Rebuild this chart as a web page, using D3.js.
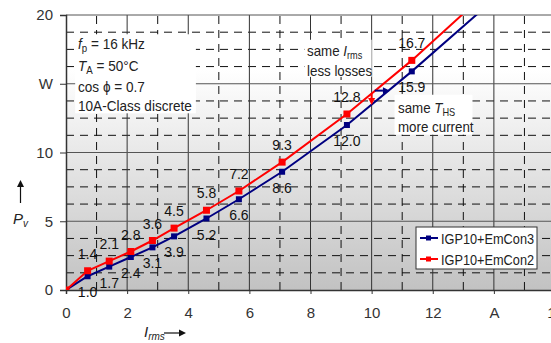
<!DOCTYPE html>
<html>
<head>
<meta charset="utf-8">
<script src="https://cdn.jsdelivr.net/npm/d3@7"></script>
<style>
  body { margin: 0; background: #fff; }
  svg text { font-family: "Liberation Sans", Arial, sans-serif; fill: #222; }
  .narrow { font-family: "Liberation Sans Narrow", "Arial Narrow", "Liberation Sans", sans-serif; }
</style>
</head>
<body>
<div id="chart"></div>
<script>
// rms current (A) of each measured point
var currents = [0, 0.707, 1.414, 2.121, 2.828, 3.536, 4.596, 5.657, 7.071, 9.192, 11.314, 14.142];
// losses (W)
var lossesEmCon3 = [0, 1.0, 1.7, 2.4, 3.1, 3.9, 5.2, 6.6, 8.6, 12.0, 15.9, 21.4];
var lossesEmCon2 = [0, 1.4, 2.1, 2.8, 3.6, 4.5, 5.8, 7.2, 9.3, 12.8, 16.7, 22.4];
// how many points carry a marker and a value label
var labelledPoints = 11;

var seriesNames = ["IGP10+EmCon3", "IGP10+EmCon2"];
var seriesColors = ["#000080", "#ff0000"];

var xTicks = [0, 2, 4, 6, 8, 10, 12, 14, 16];
var xTickLabels = ["0", "2", "4", "6", "8", "10", "12", "A", "16"];
var yTicks = [0, 5, 10, 15, 20];
var yTickLabels = ["0", "5", "10", "W", "20"];

var width = 551, height = 343;
var margin = {top: 15, right: -4, bottom: 53, left: 66};

var svg = d3.select("#chart").append("svg")
    .attr("width", width)
    .attr("height", height);

var x = d3.scaleLinear().domain([0, 16]).range([margin.left, width - margin.right]);
var y = d3.scaleLinear().domain([0, 20]).range([height - margin.bottom, margin.top]);

// background gradient
var defs = svg.append("defs");
var grad = defs.append("linearGradient")
    .attr("id", "bg").attr("x1", 0).attr("y1", 0).attr("x2", 0).attr("y2", 1);
grad.append("stop").attr("offset", "0.2").attr("stop-color", "#ffffff");
grad.append("stop").attr("offset", "1").attr("stop-color", "#c2c2c2");

defs.append("clipPath").attr("id", "plotclip")
    .append("rect")
    .attr("x", x(0)).attr("y", y(20))
    .attr("width", x(16) - x(0)).attr("height", y(0) - y(20));

svg.append("rect")
    .attr("x", x(0)).attr("y", y(20))
    .attr("width", x(16) - x(0)).attr("height", y(0) - y(20))
    .attr("fill", "url(#bg)");

// grid
var grid = svg.append("g");
var minorX = d3.range(1, 16, 2);
var majorX = d3.range(2, 17, 2);
var minorY = d3.range(1.25, 20, 1.25).filter(function(v) { return v % 5 != 0; });
var majorY = [5, 10, 15, 20];

grid.selectAll(".vminor").data(minorX).enter().append("line")
    .attr("x1", function(d) { return x(d); }).attr("x2", function(d) { return x(d); })
    .attr("y1", y(0)).attr("y2", y(20))
    .attr("stroke", "#111").attr("stroke-dasharray", "8,6");
grid.selectAll(".hminor").data(minorY).enter().append("line")
    .attr("x1", x(0)).attr("x2", x(16))
    .attr("y1", function(d) { return y(d); }).attr("y2", function(d) { return y(d); })
    .attr("stroke", "#111").attr("stroke-dasharray", "8,6");
grid.selectAll(".vmajor").data(majorX).enter().append("line")
    .attr("x1", function(d) { return x(d); }).attr("x2", function(d) { return x(d); })
    .attr("y1", y(0)).attr("y2", y(20))
    .attr("stroke", "#333");
grid.selectAll(".hmajor").data(majorY).enter().append("line")
    .attr("x1", x(0)).attr("x2", x(16))
    .attr("y1", function(d) { return y(d); }).attr("y2", function(d) { return y(d); })
    .attr("stroke", "#555");

// white text boxes
function textBox(x0, y0, x1, y1) {
    svg.append("rect")
        .attr("x", x0).attr("y", y0)
        .attr("width", x1 - x0).attr("height", y1 - y0)
        .attr("fill", "#fff");
}
textBox(x(0.3), y(18.6), x(4.25), y(12.85));
textBox(x(7.8), y(18.2), x(10.0), y(15.5));
textBox(x(10.75), y(14.2), x(13.3), y(11.3));

// axes
var xAxis = d3.axisBottom(x).tickValues(xTicks)
    .tickFormat(function(d, i) { return xTickLabels[i]; })
    .tickSize(4).tickPadding(13);
var gx = svg.append("g").attr("transform", "translate(0," + y(0) + ")").call(xAxis);
gx.select(".domain").attr("stroke", "#333").attr("stroke-width", 1.5);
gx.selectAll(".tick line").attr("stroke", "#333");
gx.selectAll("text").attr("class", "narrow").style("font-size", "15px").style("fill", "#333");

var yAxis = d3.axisLeft(y).tickValues(yTicks)
    .tickFormat(function(d, i) { return yTickLabels[i]; })
    .tickSize(6).tickPadding(7);
var gy = svg.append("g").attr("transform", "translate(" + x(0) + ",0)").call(yAxis);
gy.select(".domain").attr("stroke", "#333").attr("stroke-width", 1.5);
gy.selectAll(".tick line").attr("stroke", "#333");
gy.selectAll("text").attr("class", "narrow").style("font-size", "15px").style("fill", "#333");

// series
var seriesData = [lossesEmCon3, lossesEmCon2].map(function(vals) {
    return currents.map(function(c, i) { return {i: c, p: vals[i], idx: i}; });
});

var line = d3.line()
    .x(function(d) { return x(d.i); })
    .y(function(d) { return y(d.p); });

var plot = svg.append("g").attr("clip-path", "url(#plotclip)");
seriesData.forEach(function(data, s) {
    plot.append("path")
        .datum(data)
        .attr("fill", "none")
        .attr("stroke", seriesColors[s])
        .attr("stroke-width", 2)
        .attr("d", line);
    var size = s == 0 ? 6 : 7;
    plot.selectAll(".m" + s)
        .data(data.filter(function(d) { return d.idx < labelledPoints; }))
        .enter().append("rect")
        .attr("x", function(d) { return x(d.i) - size / 2; })
        .attr("y", function(d) { return y(d.p) - size / 2; })
        .attr("width", size).attr("height", size)
        .attr("fill", seriesColors[s]);
});

// value labels: EmCon3 below, EmCon2 above
seriesData.forEach(function(data, s) {
    svg.selectAll(".lab" + s)
        .data(data.filter(function(d) { return d.idx > 0 && d.idx < labelledPoints; }))
        .enter().append("text")
        .attr("class", "narrow")
        .attr("x", function(d) { return x(d.i); })
        .attr("y", function(d) { return y(d.p) + (s == 0 ? 21 : -12); })
        .attr("text-anchor", "middle")
        .style("font-size", "14px")
        .style("fill", "#111")
        .text(function(d) { return d.p.toFixed(1); });
});

// annotation arrows
function arrow(x0, y0, x1, y1, color, sw) {
    var ang = Math.atan2(y1 - y0, x1 - x0), len = 7, w = 3.5;
    var bx = x1 - len * Math.cos(ang), by = y1 - len * Math.sin(ang);
    svg.append("line")
        .attr("x1", x0).attr("y1", y0).attr("x2", bx).attr("y2", by)
        .attr("stroke", color).attr("stroke-width", sw || 2);
    svg.append("path")
        .attr("d", "M" + x1 + "," + y1
            + "L" + (bx - w * Math.sin(ang)) + "," + (by + w * Math.cos(ang))
            + "L" + (bx + w * Math.sin(ang)) + "," + (by - w * Math.cos(ang)) + "Z")
        .attr("fill", color);
}
arrow(x(10.0), y(14.3), x(10.0), y(13.45), "#ff0000");
arrow(x(10.1), y(14.5), x(10.6), y(14.5), "#000080");

// text squeezed a little horizontally, like the original
function label(px, py, size, sx) {
    return svg.append("g")
        .attr("transform", "translate(" + px + "," + py + ") scale(" + sx + ",1)")
        .append("text")
        .style("font-size", size + "px");
}

// info text
var t1 = label(78, 49, 14, 0.97);
t1.append("tspan").style("font-style", "italic").text("f");
t1.append("tspan").attr("dy", 3).style("font-size", "10px").text("p");
t1.append("tspan").attr("dy", -3).text(" = 16 kHz");
var t2 = label(78, 71, 14, 0.97);
t2.append("tspan").style("font-style", "italic").text("T");
t2.append("tspan").attr("dy", 3).style("font-size", "10px").text("A");
t2.append("tspan").attr("dy", -3).text(" = 50°C");
label(78, 92, 14, 0.97).text("cos ϕ = 0.7");
label(78, 111, 14, 0.97).text("10A-Class discrete");

var a1 = label(307, 56, 14.5, 0.92);
a1.append("tspan").text("same ");
a1.append("tspan").style("font-style", "italic").text("I");
a1.append("tspan").attr("dy", 3).style("font-size", "10px").text("rms");
label(307, 76, 14.5, 0.92).text("less losses");

var a2 = label(398, 113, 14.5, 0.92);
a2.append("tspan").text("same ");
a2.append("tspan").style("font-style", "italic").text("T");
a2.append("tspan").attr("dy", 3).style("font-size", "10px").text("HS");
label(398, 132, 14.5, 0.92).text("more current");

// axis titles
var pv = svg.append("text").attr("x", 13).attr("y", 224).style("font-size", "15px").style("font-style", "italic");
pv.append("tspan").text("P");
pv.append("tspan").attr("dy", 3).style("font-size", "10px").text("v");
arrow(20.5, 203, 20.5, 180, "#111", 1.2);

var ix = svg.append("text").attr("x", 144).attr("y", 337).style("font-size", "15px").style("font-style", "italic");
ix.append("tspan").text("I");
ix.append("tspan").attr("dy", 3).style("font-size", "10px").text("rms");
arrow(164, 333, 186, 333, "#111", 1.2);

// legend
var legend = svg.append("g").attr("transform", "translate(416,227)");
legend.append("rect").attr("width", 121).attr("height", 42)
    .attr("fill", "#fff").attr("stroke", "#333");
seriesNames.forEach(function(name, s) {
    var ly = 11 + s * 21;
    legend.append("line").attr("x1", 4).attr("x2", 22).attr("y1", ly).attr("y2", ly)
        .attr("stroke", seriesColors[s]).attr("stroke-width", 2);
    legend.append("rect").attr("x", 10).attr("y", ly - 2.5).attr("width", 5).attr("height", 5)
        .attr("fill", seriesColors[s]);
    legend.append("g").attr("transform", "translate(25," + (ly + 5.5) + ") scale(0.91,1)")
        .append("text").style("font-size", "14px").text(name);
});
</script>
</body>
</html>
